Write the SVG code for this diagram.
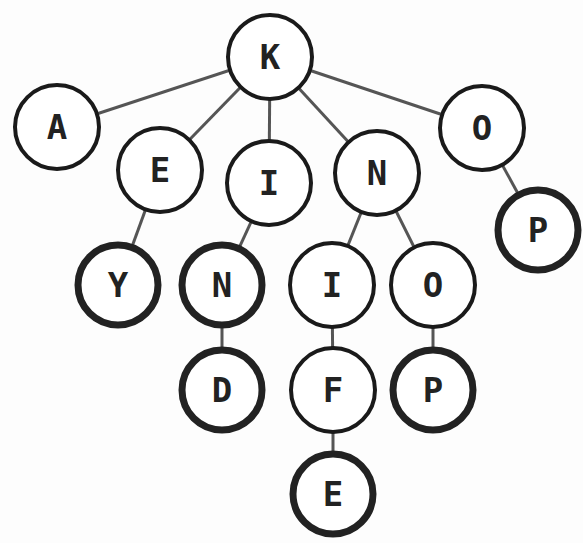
<svg xmlns="http://www.w3.org/2000/svg" width="583" height="543" viewBox="0 0 583 543">
<style>
.e{stroke:#555;stroke-width:3;fill:none}
.n circle{fill:#fff;stroke:#1a1a1a;stroke-width:4}
.t circle{fill:#fff;stroke:#222;stroke-width:7}
text{font-family:"DejaVu Sans Mono","Liberation Mono",monospace;font-weight:bold;font-size:34px;fill:#222;text-anchor:middle;dominant-baseline:central}
</style>
<rect width="583" height="543" fill="#fdfdfd"/>
<g id="edges">
<line class="e" x1="270" y1="57" x2="57" y2="127"/>
<line class="e" x1="270" y1="57" x2="160" y2="170"/>
<line class="e" x1="270" y1="57" x2="269" y2="183"/>
<line class="e" x1="270" y1="57" x2="377" y2="173"/>
<line class="e" x1="270" y1="57" x2="482" y2="128"/>
<line class="e" x1="482" y1="128" x2="538" y2="230"/>
<line class="e" x1="160" y1="170" x2="118" y2="285"/>
<line class="e" x1="269" y1="183" x2="222" y2="285"/>
<line class="e" x1="377" y1="173" x2="332" y2="285"/>
<line class="e" x1="377" y1="173" x2="433" y2="285"/>
<line class="e" x1="222" y1="285" x2="222" y2="390"/>
<line class="e" x1="332" y1="285" x2="333" y2="390"/>
<line class="e" x1="433" y1="285" x2="433" y2="390"/>
<line class="e" x1="333" y1="390" x2="333" y2="494"/>
</g>
<g id="K" class="n"><circle cx="270" cy="57" r="42"/><text x="270" y="57">K</text></g>
<g id="A" class="n"><circle cx="57" cy="127" r="42"/><text x="57" y="127">A</text></g>
<g id="E" class="n"><circle cx="160" cy="170" r="42"/><text x="160" y="170">E</text></g>
<g id="I" class="n"><circle cx="269" cy="183" r="42"/><text x="269" y="183">I</text></g>
<g id="N" class="n"><circle cx="377" cy="173" r="42"/><text x="377" y="173">N</text></g>
<g id="O" class="n"><circle cx="482" cy="128" r="42"/><text x="482" y="128">O</text></g>
<g id="P" class="t"><circle cx="538" cy="230" r="40"/><text x="538" y="230">P</text></g>
<g id="Y" class="t"><circle cx="118" cy="285" r="40"/><text x="118" y="285">Y</text></g>
<g id="N2" class="t"><circle cx="222" cy="285" r="40"/><text x="222" y="285">N</text></g>
<g id="I2" class="n"><circle cx="332" cy="285" r="42"/><text x="332" y="285">I</text></g>
<g id="O2" class="n"><circle cx="433" cy="285" r="42"/><text x="433" y="285">O</text></g>
<g id="D" class="t"><circle cx="222" cy="390" r="40"/><text x="222" y="390">D</text></g>
<g id="F" class="n"><circle cx="333" cy="390" r="42"/><text x="333" y="390">F</text></g>
<g id="P2" class="t"><circle cx="433" cy="390" r="40"/><text x="433" y="390">P</text></g>
<g id="E2" class="t"><circle cx="333" cy="494" r="40"/><text x="333" y="494">E</text></g>
</svg>
